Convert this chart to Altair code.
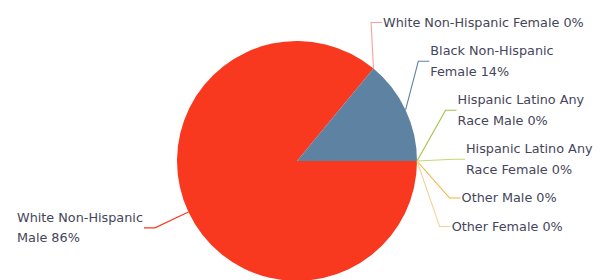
import math
import altair as alt
import pandas as pd

# ---- data ----
categories = ["White Non-Hispanic Male", "White Non-Hispanic Female", "Black Non-Hispanic Female",
              "Hispanic Latino Any Race Male", "Hispanic Latino Any Race Female",
              "Other Male", "Other Female"]
percent = [86, 0, 14, 0, 0, 0, 0]
label_text = ["White Non-Hispanic\nMale 86%", "White Non-Hispanic Female 0%",
              "Black Non-Hispanic\nFemale 14%", "Hispanic Latino Any\nRace Male 0%",
              "Hispanic Latino Any\nRace Female 0%", "Other Male 0%", "Other Female 0%"]
colors = ["#F8381F", "#F7A29A", "#5E82A1", "#A2C148", "#C2D872", "#F2B339", "#F4D190"]

# ---- layout parameters ----
W, H = 589, 273          # plot area
CX, CY = 289, 153        # pie centre inside plot area
R = 120                  # pie radius
R_LABEL = 157            # radius on which connector elbows lie
ELBOW = 11               # horizontal connector piece
START = 90               # start angle (degrees clockwise from top)
FONT = "DejaVu Sans"
FONT_SIZE = 12.8
LINE_H = 20.5
PAD = 8
TEXT_COLOR = "#45455a"

# DejaVu Sans advance widths (units / 2048) for measuring left-side labels
ADV = {' ': 651, '%': 1946, '-': 739, 'A': 1401, 'B': 1405, 'F': 1178, 'H': 1540, 'L': 1141,
       'M': 1767, 'N': 1532, 'O': 1612, 'R': 1423, 'W': 2025, 'a': 1255, 'c': 1126, 'e': 1260,
       'h': 1298, 'i': 569, 'k': 1186, 'l': 569, 'm': 1995, 'n': 1298, 'o': 1253, 'p': 1300,
       'r': 842, 's': 1067, 't': 803, 'u': 1298, 'y': 1212}


def text_width(s):
    return sum(ADV.get(ch, 1303) for ch in s) * FONT_SIZE / 2048


def distribute(targets, sizes):
    """least-squares placement without overlap (pool adjacent violators)"""
    off = [0.0]
    for i in range(1, len(targets)):
        off.append(off[-1] + (sizes[i - 1] + sizes[i]) / 2 + PAD)
    blocks = []
    for i, t in enumerate(targets):
        blocks.append([t - off[i], 1])
        while len(blocks) > 1 and blocks[-2][0] / blocks[-2][1] > blocks[-1][0] / blocks[-1][1]:
            s, c = blocks.pop()
            blocks[-1][0] += s
            blocks[-1][1] += c
    z = []
    for s, c in blocks:
        z += [s / c] * c
    return [z[i] + off[i] for i in range(len(targets))]


# slice angles
mids = []
cum = 0
for v in percent:
    start = START + 3.6 * cum
    mids.append(math.radians(start + 1.8 * v))
    cum += v

side = ["right" if math.sin(m) > 1e-9 else "left" for m in mids]
target = [-R_LABEL * math.cos(m) for m in mids]
nlines = [len(t.split("\n")) for t in label_text]

label_y = [0.0] * len(categories)
for sd in ("right", "left"):
    idx = [i for i in range(len(categories)) if side[i] == sd]
    if sd == "right":
        idx.sort(key=lambda i: (target[i], i))
    else:
        idx.sort(key=lambda i: (target[i], -i))
    ys = distribute([target[i] for i in idx], [nlines[i] * LINE_H for i in idx])
    for i, y in zip(idx, ys):
        label_y[i] = y

line_rows, text_rows, arc_rows = [], [], []
for i, cat in enumerate(categories):
    arc_rows.append({"category": cat, "percent": percent[i], "idx": i})
    m = mids[i]
    sgn = 1 if side[i] == "right" else -1
    ly = label_y[i]
    ex = sgn * math.sqrt(max(R_LABEL ** 2 - ly ** 2, 0))
    endx = ex + sgn * ELBOW
    pts = [(R * math.sin(m), -R * math.cos(m)), (ex, ly), (endx, ly)]
    for k, (px, py) in enumerate(pts):
        line_rows.append({"category": cat, "pt": k, "x": px, "y": py})
    if sgn > 0:
        tx = endx + 1
    else:
        tx = endx - 1 - max(text_width(s) for s in label_text[i].split("\n"))
    # first line's middle sits above the block centre for multi-line labels
    ty = ly - (nlines[i] - 1) * LINE_H / 2
    text_rows.append({"category": cat, "label": label_text[i], "x": tx, "y": ty})

xs = alt.Scale(domain=[-CX, W - CX], nice=False, zero=False)
ys_ = alt.Scale(domain=[-CY, H - CY], nice=False, zero=False, reverse=True)
cs = alt.Scale(domain=categories, range=colors)

arcs = alt.Chart(pd.DataFrame(arc_rows)).mark_arc(outerRadius=R).encode(
    theta=alt.Theta("percent:Q", stack=True,
                    scale=alt.Scale(range=[math.pi / 2, math.pi / 2 + 2 * math.pi])),
    order=alt.Order("idx:Q"),
    color=alt.Color("category:N", scale=cs, legend=None),
    x=alt.X(datum=0, type="quantitative", scale=xs, axis=None),
    y=alt.Y(datum=0, type="quantitative", scale=ys_, axis=None),
)

lines = alt.Chart(pd.DataFrame(line_rows)).mark_line(strokeWidth=1.1).encode(
    x=alt.X("x:Q", scale=xs, axis=None),
    y=alt.Y("y:Q", scale=ys_, axis=None),
    detail="category:N",
    order=alt.Order("pt:Q"),
    color=alt.Color("category:N", scale=cs, legend=None),
)

texts = alt.Chart(pd.DataFrame(text_rows)).mark_text(
    align="left", baseline="middle", lineBreak="\n", lineHeight=LINE_H,
    font=FONT, fontSize=FONT_SIZE, color=TEXT_COLOR,
).encode(
    x=alt.X("x:Q", scale=xs, axis=None),
    y=alt.Y("y:Q", scale=ys_, axis=None),
    text="label:N",
)

chart = alt.layer(arcs, lines, texts).properties(
    width=W, height=H, padding=0,
    autosize=alt.AutoSizeParams(type="none"),
).configure_view(stroke=None)

chart.save("out.html", embed_options={"renderer": "svg", "actions": False})
